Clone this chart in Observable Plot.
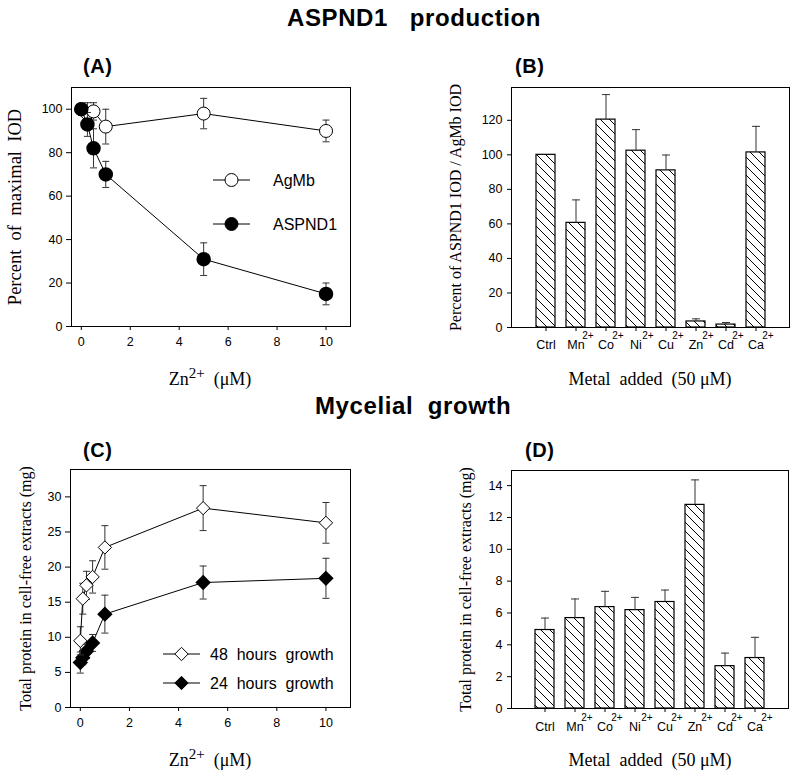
<!DOCTYPE html>
<html><head><meta charset="utf-8">
<script src="https://cdn.jsdelivr.net/npm/d3@7"></script>
<script src="https://cdn.jsdelivr.net/npm/@observablehq/plot@0.6"></script>
<style>
body{margin:0;background:#fff;}
#wrap{position:relative;width:800px;height:777px;background:#fff;overflow:hidden;}
#wrap > svg{position:absolute;margin:0;}
svg text{white-space:pre;}
</style></head><body><div id="wrap"></div>
<script>
// ---------- data ----------
const zincA = [0, 0.25, 0.5, 1, 5, 10];
const agmb = [100, 98, 99, 92, 98, 90];
const agmbErr = [0, 5, 4, 8, 7, 5];
const aspnd1 = [100, 93, 82, 70, 31, 15];
const aspnd1Err = [0, 5.5, 9, 6, 7.5, 5];

const metals = ["Ctrl", "Mn", "Co", "Ni", "Cu", "Zn", "Cd", "Ca"];
const charges = ["", "2+", "2+", "2+", "2+", "2+", "2+", "2+"];
const ratio = [100, 60.6, 120.4, 102.4, 91, 3.5, 1.7, 101.4];
const ratioErr = [0, 13.3, 14.5, 12.2, 8.9, 1.5, 1.2, 15.1];

const zincC = [0, 0.1, 0.25, 0.5, 1, 5, 10];
const growth48 = [9.5, 15.5, 17.4, 18.6, 22.8, 28.4, 26.3];
const growth48Err = [2, 2.2, 2, 2.3, 3.1, 3.2, 2.9];
const growth24 = [6.4, 7.1, 8.0, 9.2, 13.3, 17.8, 18.4];
const growth24Err = [1.5, 1, 1, 1.2, 2.7, 2.35, 2.85];

const protein = [4.93, 5.68, 6.37, 6.18, 6.69, 12.79, 2.66, 3.17];
const proteinErr = [0.75, 1.2, 0.99, 0.8, 0.75, 1.57, 0.82, 1.3];

const zincTicks = [0, 2, 4, 6, 8, 10];
const ticksA = [0, 20, 40, 60, 80, 100];
const ticksB = [0, 20, 40, 60, 80, 100, 120];
const ticksC = [0, 5, 10, 15, 20, 25, 30];
const ticksD = [0, 2, 4, 6, 8, 10, 12, 14];

// ---------- helpers ----------
const SANS = "'Liberation Sans', Arial, Helvetica, sans-serif";
const SERIF = "'Liberation Serif', 'Times New Roman', serif";
const cap = (w) => ({draw(ctx) { ctx.moveTo(-w, 0); ctx.lineTo(w, 0); }});
const rows = (xs, ys, es) => xs.map((x, i) => ({x, y: ys[i], e: es[i], lo: ys[i] - es[i], hi: ys[i] + es[i]}));
const ERR = "#333";

function errMarks(data, w, both) {
  const d = data.filter(r => r.e > 0);
  const m = [
    Plot.ruleX(d, {x: "x", y1: both ? "lo" : "y", y2: "hi", stroke: ERR, strokeWidth: 1}),
    Plot.dot(d, {x: "x", y: "hi", symbol: cap(w), fill: "none", stroke: ERR, strokeWidth: 1})
  ];
  if (both) m.push(Plot.dot(d, {x: "x", y: "lo", symbol: cap(w), fill: "none", stroke: ERR, strokeWidth: 1}));
  return m;
}
const baseStyle = {fontFamily: SANS, fontSize: "12.5px", color: "black", background: "transparent", overflow: "visible"};
const yLabel = (t, dx) => Plot.text([t], {text: d => d, frameAnchor: "left", textAnchor: "middle", lineAnchor: "middle", rotate: -90, dx, fontFamily: SERIF, fontSize: 16});

// hatch pattern defs
const wrap = d3.select("#wrap");
const defs = wrap.append("svg").attr("width", 0).attr("height", 0).style("left", "0px").style("top", "0px");
const pat = defs.append("defs").append("pattern").attr("id", "hatch").attr("patternUnits", "userSpaceOnUse")
  .attr("width", 9).attr("height", 9);
pat.append("path").attr("d", "M-1,-1 L10,10 M-5,4 L5,14 M4,-5 L14,5").attr("stroke", "black").attr("stroke-width", 1);

function place(svg, left, top) {
  svg.style.position = "absolute";
  svg.style.left = left + "px";
  svg.style.top = top + "px";
  document.getElementById("wrap").appendChild(svg);
}

// ---------- Panel A ----------
const rA1 = rows(zincA, agmb, agmbErr);
const rA2 = rows(zincA, aspnd1, aspnd1Err);
const plotA = Plot.plot({
  width: 400, height: 390,
  marginLeft: 71, marginRight: 50, marginTop: 87, marginBottom: 64,
  style: baseStyle,
  x: {domain: [-0.4, 11]},
  y: {domain: [0, 110]},
  marks: [
    Plot.frame({stroke: "black", strokeWidth: 1}),
    Plot.axisX({ticks: zincTicks, tickSize: 4, tickPadding: 7, label: null}),
    Plot.axisY({ticks: ticksA, tickSize: 5, tickPadding: 4, label: null}),
    Plot.text(["Percent  of  maximal  IOD"], {text: d => d, frameAnchor: "left", textAnchor: "middle", lineAnchor: "middle", rotate: -90, dx: -56, fontFamily: SERIF, fontSize: 18.5}),
    ...errMarks(rA1, 3.5, true),
    Plot.line(rA1, {x: "x", y: "y", stroke: "black", strokeWidth: 1}),
    Plot.dot(rA1, {x: "x", y: "y", r: 6.5, fill: "white", stroke: "black", strokeWidth: 1}),
    ...errMarks(rA2, 3.5, true),
    Plot.line(rA2, {x: "x", y: "y", stroke: "black", strokeWidth: 1}),
    Plot.dot(rA2, {x: "x", y: "y", r: 6.5, fill: "black", stroke: "black"})
  ]
});
place(plotA, 0, 0);

// ---------- Panel B ----------
const rB = rows(metals, ratio, ratioErr);
const plotB = Plot.plot({
  width: 400, height: 390,
  marginLeft: 111, marginRight: 11, marginTop: 87, marginBottom: 63,
  style: baseStyle,
  x: {domain: metals, paddingInner: 0.38, paddingOuter: 0.69},
  y: {domain: [0, 139]},
  marks: [
    Plot.frame({stroke: "black", strokeWidth: 1}),
    Plot.axisY({ticks: ticksB, tickSize: 4, tickPadding: 5, label: null}),
    Plot.axisX({tickSize: 4, tickFormat: () => "", label: null}),
    yLabel("Percent of ASPND1 IOD / AgMb IOD", -56),
    Plot.barY(rB, {x: "x", y: "y", fill: "url(#hatch)", stroke: "black", strokeWidth: 1.2}),
    ...errMarks(rB, 4, false),
    Plot.text(metals, {x: d => d, y: () => 0, text: d => d, dy: 17, fontSize: 12.5}),
    Plot.text(metals.map((m, i) => ({m, c: charges[i]})).filter(d => d.c), {x: "m", y: () => 0, text: "c", dy: 8, dx: 12, fontSize: 10})
  ]
});
place(plotB, 400, 0);

// ---------- Panel C ----------
const rC48 = rows(zincC, growth48, growth48Err);
const rC24 = rows(zincC, growth24, growth24Err);
const plotC = Plot.plot({
  width: 400, height: 387,
  marginLeft: 70, marginRight: 50, marginTop: 79, marginBottom: 70,
  style: baseStyle,
  x: {domain: [-0.4, 11]},
  y: {domain: [0, 33.9]},
  marks: [
    Plot.frame({stroke: "black", strokeWidth: 1}),
    Plot.axisX({ticks: zincTicks, tickSize: 4, tickPadding: 7, label: null}),
    Plot.axisY({ticks: ticksC, tickSize: 5, tickPadding: 4, label: null}),
    yLabel("Total protein in cell-free extracts (mg)", -45),
    ...errMarks(rC24, 3.5, true),
    Plot.line(rC24, {x: "x", y: "y", stroke: "black", strokeWidth: 1}),
    Plot.dot(rC24, {x: "x", y: "y", r: 6, symbol: "diamond2", fill: "black", stroke: "black"}),
    ...errMarks(rC48, 3.5, true),
    Plot.line(rC48, {x: "x", y: "y", stroke: "black", strokeWidth: 1}),
    Plot.dot(rC48, {x: "x", y: "y", r: 6, symbol: "diamond2", fill: "white", stroke: "black", strokeWidth: 1})
  ]
});
place(plotC, 0, 390);

// ---------- Panel D ----------
const rD = rows(metals, protein, proteinErr);
const plotD = Plot.plot({
  width: 400, height: 387,
  marginLeft: 111, marginRight: 12, marginTop: 80, marginBottom: 69,
  style: baseStyle,
  x: {domain: metals, paddingInner: 0.38, paddingOuter: 0.69},
  y: {domain: [0, 14.95]},
  marks: [
    Plot.frame({stroke: "black", strokeWidth: 1}),
    Plot.axisY({ticks: ticksD, tickSize: 4, tickPadding: 5, label: null}),
    Plot.axisX({tickSize: 4, tickFormat: () => "", label: null}),
    yLabel("Total protein in cell-free extracts (mg)", -46),
    Plot.barY(rD, {x: "x", y: "y", fill: "url(#hatch)", stroke: "black", strokeWidth: 1.2}),
    ...errMarks(rD, 4, false),
    Plot.text(metals, {x: d => d, y: () => 0, text: d => d, dy: 18, fontSize: 12.5}),
    Plot.text(metals.map((m, i) => ({m, c: charges[i]})).filter(d => d.c), {x: "m", y: () => 0, text: "c", dy: 9, dx: 12, fontSize: 10})
  ]
});
place(plotD, 400, 390);

// ---------- overlay: titles, panel labels, axis titles, legends ----------
const ov = wrap.append("svg").attr("width", 800).attr("height", 777)
  .style("left", "0px").style("top", "0px").style("pointer-events", "none");

function bold(x, y, t, size, ls) {
  ov.append("text").attr("x", x).attr("y", y).text(t)
    .attr("font-family", SANS).attr("font-weight", "bold").attr("font-size", size)
    .attr("letter-spacing", ls).attr("fill", "black");
}
bold(287, 26, "ASPND1   production", 24, 0.6);
bold(315, 414, "Mycelial  growth", 24, 0.6);
bold(83, 73, "(A)", 20, 0.6);
bold(515, 73, "(B)", 20, 0.6);
bold(83, 457, "(C)", 20, 0.6);
bold(525, 457, "(D)", 20, 0.6);

function znLabel(cx, y) {
  const t = ov.append("text").attr("x", cx).attr("y", y).attr("text-anchor", "middle")
    .attr("font-family", SERIF).attr("font-size", 18).attr("fill", "black");
  t.append("tspan").text("Zn");
  t.append("tspan").attr("dy", -7).attr("font-size", 15).text("2+");
  t.append("tspan").attr("dy", 7).text("  (\u03BCM)");
}
znLabel(210, 385);
znLabel(210, 766);
function metalLabel(cx, y) {
  ov.append("text").attr("x", cx).attr("y", y).attr("text-anchor", "middle")
    .attr("font-family", SERIF).attr("font-size", 18).attr("fill", "black")
    .text("Metal  added  (50 \u03BCM)");
}
metalLabel(650, 385);
metalLabel(650, 766);

function legendItem(x1, x2, y, sym, fill, label, tx) {
  ov.append("line").attr("x1", x1).attr("x2", x2).attr("y1", y).attr("y2", y).attr("stroke", "black");
  const cx = (x1 + x2) / 2;
  if (sym === "circle") {
    ov.append("circle").attr("cx", cx).attr("cy", y).attr("r", 6.5).attr("fill", fill).attr("stroke", "black");
  } else {
    ov.append("path").attr("d", d3.symbol(d3.symbolDiamond2, 6 * 6 * Math.PI)()).attr("transform", `translate(${cx},${y})`)
      .attr("fill", fill).attr("stroke", "black");
  }
  ov.append("text").attr("x", tx).attr("y", y).attr("dy", "0.35em").text(label)
    .attr("font-family", SANS).attr("font-size", 16).attr("fill", "black");
}
legendItem(213, 250, 180, "circle", "white", "AgMb", 273);
legendItem(213, 250, 224, "circle", "black", "ASPND1", 273);
legendItem(163, 200, 654, "diamond", "white", "48  hours  growth", 210);
legendItem(163, 200, 683, "diamond", "black", "24  hours  growth", 210);
</script>
</body></html>
